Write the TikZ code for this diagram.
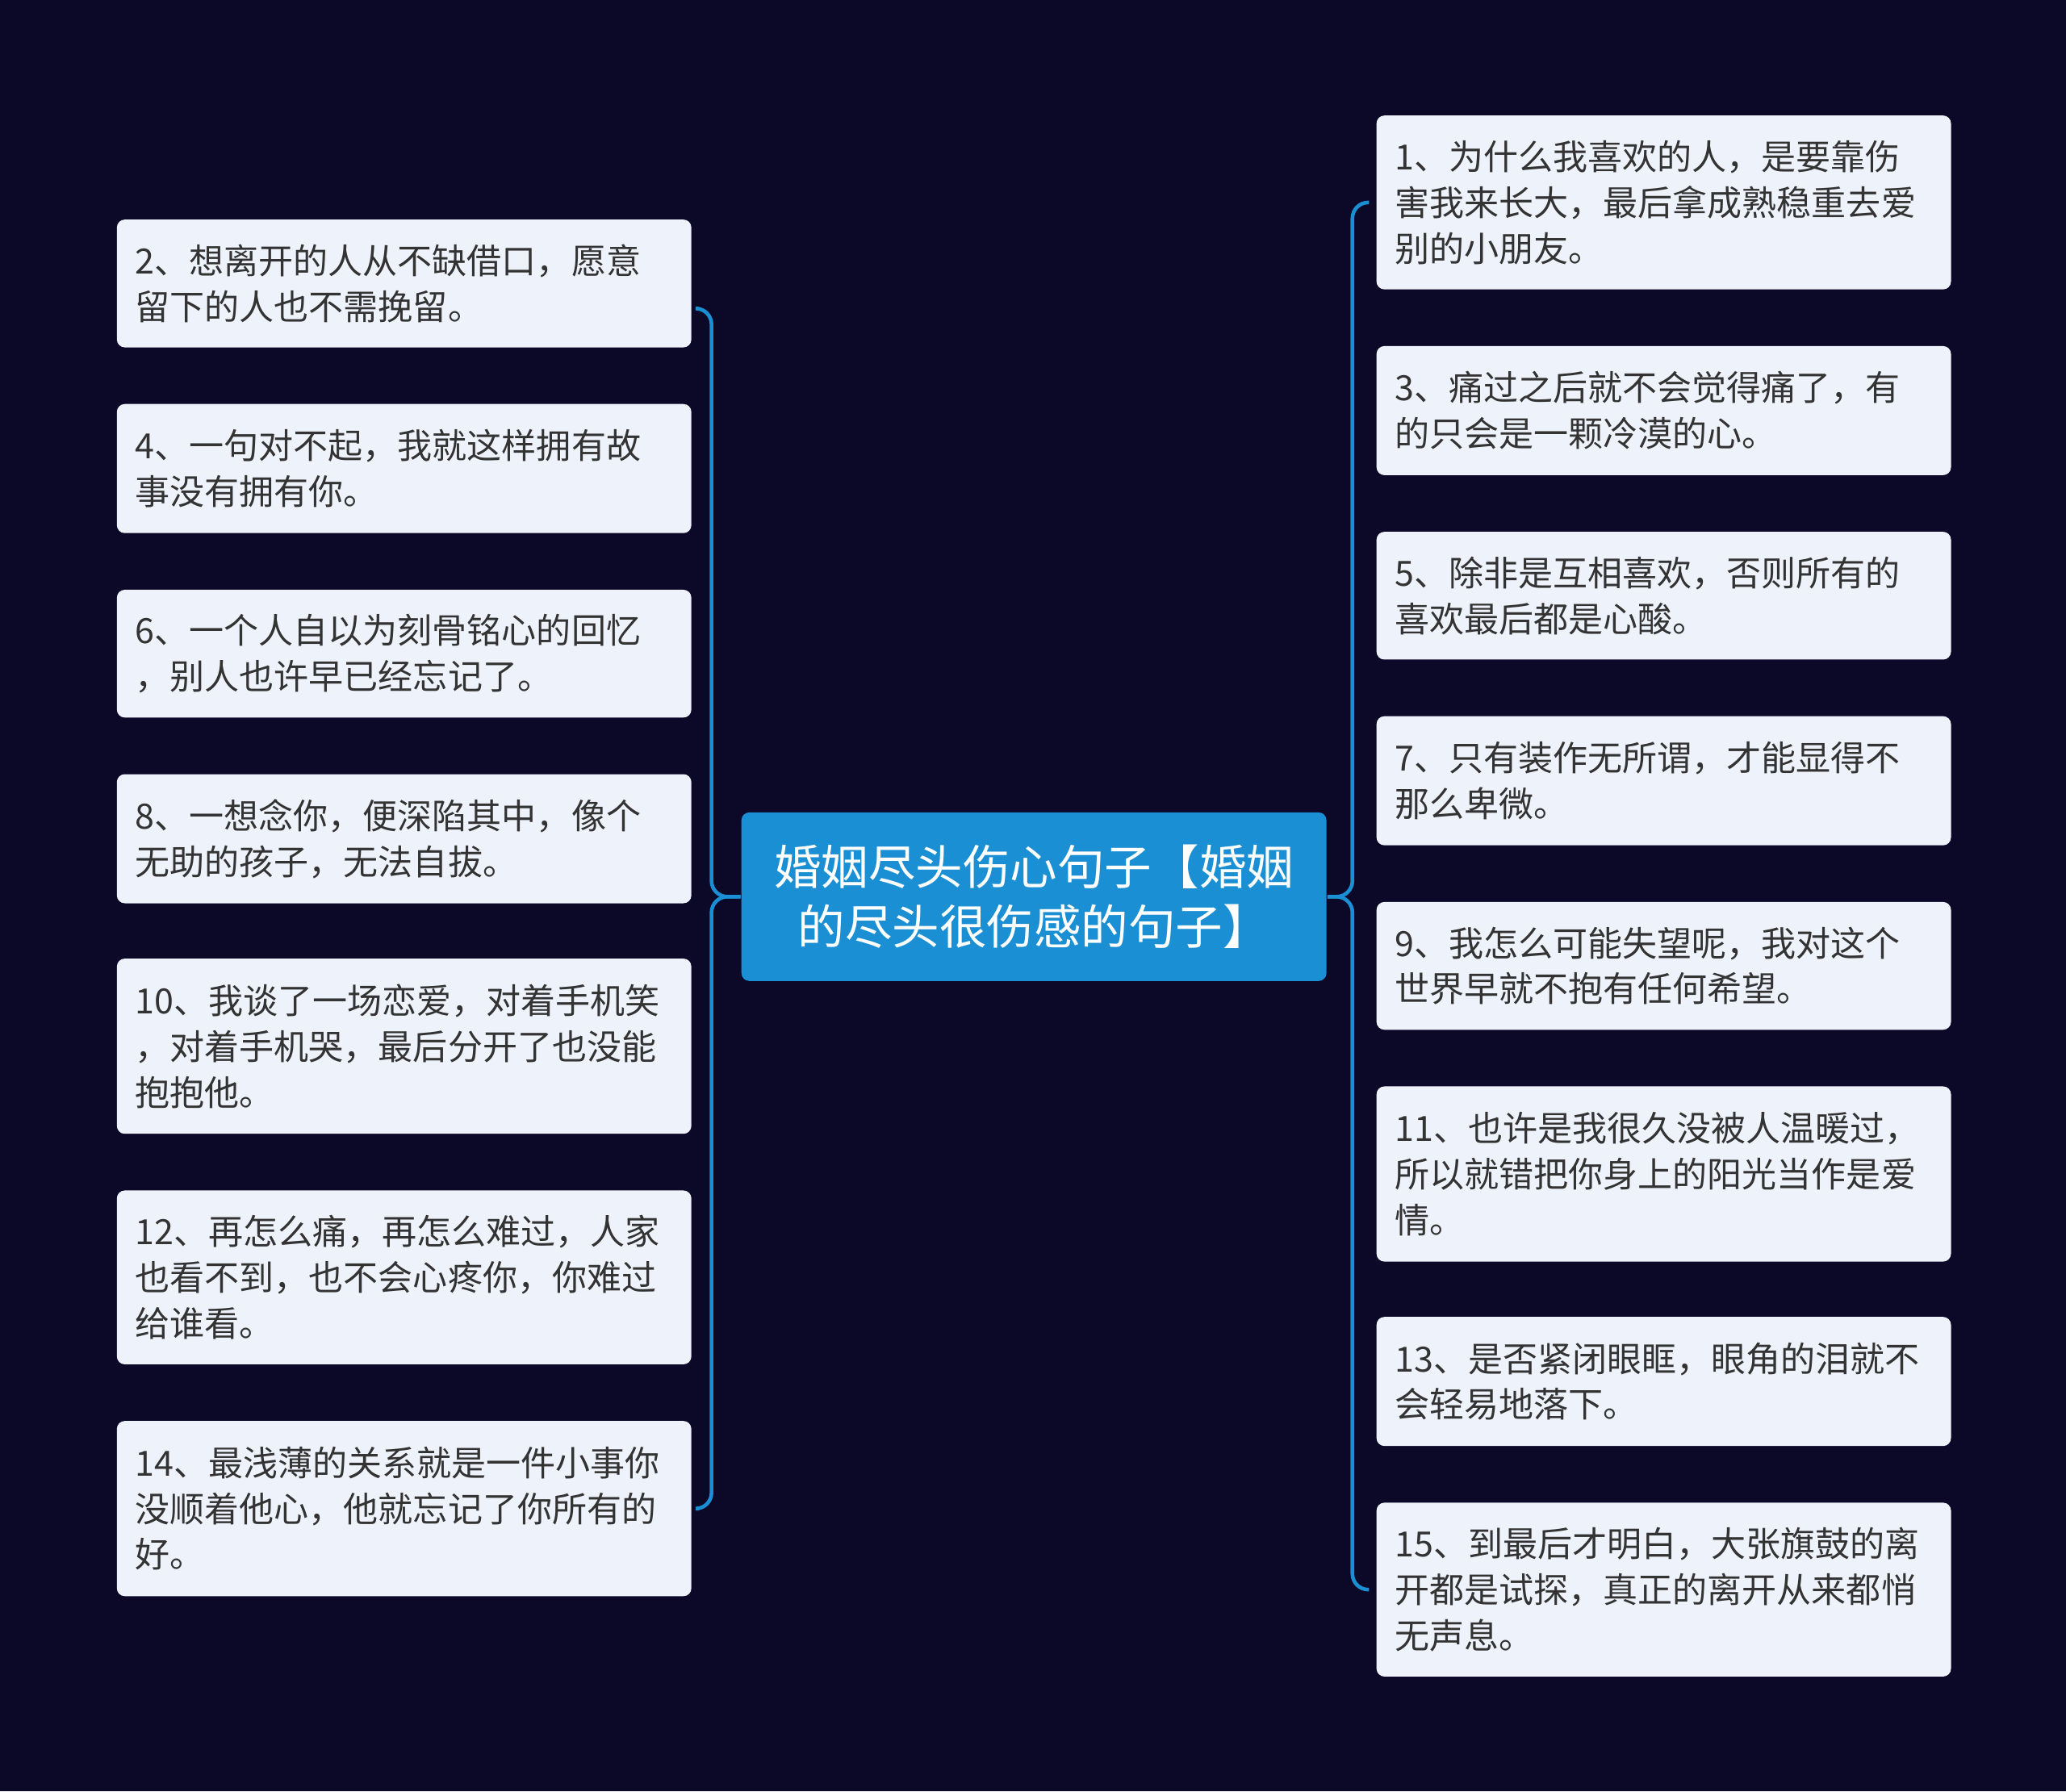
\documentclass[tikz,border=0pt]{standalone}
\usepackage{fontspec}
\newfontfamily\cjk{Noto Sans CJK SC}
\definecolor{bg}{HTML}{0B0828}
\definecolor{bx}{HTML}{EEF2FB}
\definecolor{ln}{HTML}{1A8FD3}
\definecolor{tx}{HTML}{333333}
\begin{document}
\begin{tikzpicture}[
 box/.style={draw=none,fill=bx,rounded corners=0.06cm,anchor=north west,minimum width=4.36cm,text width=4.08cm,inner xsep=0.14cm,align=left,font=\cjk\fontsize{7.5}{9.9}\selectfont,text=tx},
 conn/.style={draw=ln,line width=0.8pt,rounded corners=0.12cm}]
\fill[bg] (0,0) rectangle (15.68,-13.60);
\useasboundingbox (0,0) rectangle (15.68,-13.60);
\node[fill=ln,rounded corners=0.06cm,anchor=north west,minimum width=4.44cm,minimum height=1.28cm,text width=4.2cm,inner xsep=0.12cm,align=center,text=white,font=\cjk\fontsize{10.2}{13}\selectfont] (c) at (5.62,-6.16) {婚姻尽头伤心句子【婚姻\\的尽头很伤感的句子】};
\node[box,minimum height=0.97cm] (l1) at (0.88,-1.66) {2、想离开的人从不缺借口，愿意\\留下的人也不需挽留。};
\node[box,minimum height=0.98cm] (l2) at (0.88,-3.06) {4、一句对不起，我就这样拥有故\\事没有拥有你。};
\node[box,minimum height=0.97cm] (l3) at (0.88,-4.47) {6、一个人自以为刻骨铭心的回忆\\，别人也许早已经忘记了。};
\node[box,minimum height=0.98cm] (l4) at (0.88,-5.87) {8、一想念你，便深陷其中，像个\\无助的孩子，无法自拔。};
\node[box,minimum height=1.33cm] (l5) at (0.88,-7.27) {10、我谈了一场恋爱，对着手机笑\\，对着手机哭，最后分开了也没能\\抱抱他。};
\node[box,minimum height=1.32cm] (l6) at (0.88,-9.03) {12、再怎么痛，再怎么难过，人家\\也看不到，也不会心疼你，你难过\\给谁看。};
\node[box,minimum height=1.33cm] (l7) at (0.88,-10.78) {14、最浅薄的关系就是一件小事你\\没顺着他心，他就忘记了你所有的\\好。};
\node[box,minimum height=1.32cm] (r1) at (10.44,-0.87) {1、为什么我喜欢的人，是要靠伤\\害我来长大，最后拿成熟稳重去爱\\别的小朋友。};
\node[box,minimum height=0.98cm] (r2) at (10.44,-2.62) {3、痛过之后就不会觉得痛了，有\\的只会是一颗冷漠的心。};
\node[box,minimum height=0.97cm] (r3) at (10.44,-4.03) {5、除非是互相喜欢，否则所有的\\喜欢最后都是心酸。};
\node[box,minimum height=0.98cm] (r4) at (10.44,-5.43) {7、只有装作无所谓，才能显得不\\那么卑微。};
\node[box,minimum height=0.97cm] (r5) at (10.44,-6.84) {9、我怎么可能失望呢，我对这个\\世界早就不抱有任何希望。};
\node[box,minimum height=1.33cm] (r6) at (10.44,-8.24) {11、也许是我很久没被人温暖过，\\所以就错把你身上的阳光当作是爱\\情。};
\node[box,minimum height=0.98cm] (r7) at (10.44,-9.99) {13、是否紧闭眼眶，眼角的泪就不\\会轻易地落下。};
\node[box,minimum height=1.32cm] (r8) at (10.44,-11.40) {15、到最后才明白，大张旗鼓的离\\开都是试探，真正的离开从来都悄\\无声息。};
\draw[conn] (c.west) -- ++(-0.22,0) |- ([xshift=0.05cm,yshift=-0.19cm]l1.east);
\draw[conn] (c.west) -- ++(-0.22,0) |- ([xshift=0.05cm]l7.east);
\draw[conn] (c.east) -- ++(0.19,0) |- ([xshift=-0.05cm]r1.west);
\draw[conn] (c.east) -- ++(0.19,0) |- ([xshift=-0.05cm]r8.west);
\end{tikzpicture}
\end{document}
